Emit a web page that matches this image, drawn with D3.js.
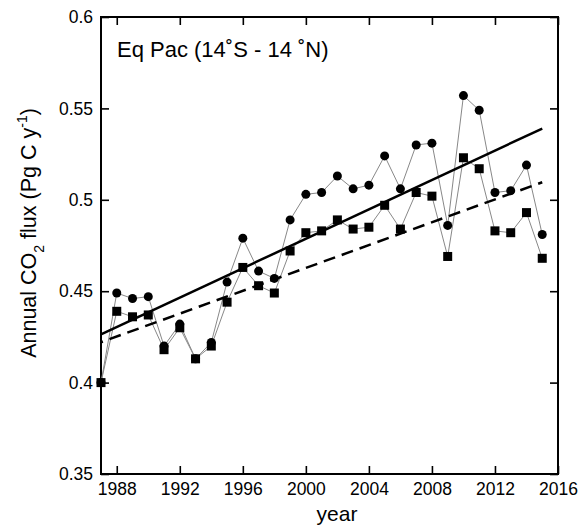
<!DOCTYPE html>
<html>
<head>
<meta charset="utf-8">
<script src="https://cdn.jsdelivr.net/npm/d3@7"></script>
<style>
  body { margin: 0; background: #fff; }
  svg text { font-family: "Liberation Sans", Arial, sans-serif; fill: #000; }
</style>
</head>
<body>
<svg id="chart" width="579" height="527"></svg>
<script>
const years = [1987, 1988, 1989, 1990, 1991, 1992, 1993, 1994, 1995, 1996, 1997, 1998, 1999, 2000, 2001,
               2002, 2003, 2004, 2005, 2006, 2007, 2008, 2009, 2010, 2011, 2012, 2013, 2014, 2015];
const circleSeries = [0.400, 0.449, 0.446, 0.447, 0.420, 0.432, 0.413, 0.422, 0.455, 0.479, 0.461, 0.457, 0.489, 0.503, 0.504,
                      0.513, 0.506, 0.508, 0.524, 0.506, 0.530, 0.531, 0.486, 0.557, 0.549, 0.504, 0.505, 0.519, 0.481];
const squareSeries = [0.400, 0.439, 0.436, 0.437, 0.418, 0.430, 0.413, 0.420, 0.444, 0.463, 0.453, 0.449, 0.472, 0.482, 0.483,
                      0.489, 0.484, 0.485, 0.497, 0.484, 0.504, 0.502, 0.469, 0.523, 0.517, 0.483, 0.482, 0.493, 0.468];
// trend lines: [startYear, endYear] and values at the ends
const trendYears = [1987, 2015];
const solidTrend = [0.4264, 0.539];
const dashedTrend = [0.4221, 0.5096];
const xTicks = [1988, 1992, 1996, 2000, 2004, 2008, 2012, 2016];
const yTicks = [0.35, 0.4, 0.45, 0.5, 0.55, 0.6];

const margin = { top: 17, right: 21, bottom: 53, left: 101 };
const width = 579 - margin.left - margin.right;
const height = 527 - margin.top - margin.bottom;

const svg = d3.select("#chart");
const g = svg.append("g").attr("transform", `translate(${margin.left},${margin.top})`);

const x = d3.scaleLinear().domain([1987, 2016]).range([0, width]);
const y = d3.scaleLinear().domain([0.35, 0.6]).range([height, 0]);

// axes (ticks pointing inward)
const axBottom = g.append("g").attr("transform", `translate(0,${height})`)
    .call(d3.axisBottom(x).tickValues(xTicks).tickFormat(d3.format("d")).tickSizeInner(-8).tickSizeOuter(0).tickPadding(9));
const axTop = g.append("g")
    .call(d3.axisTop(x).tickValues(xTicks).tickFormat("").tickSizeInner(-8).tickSizeOuter(0));
const axLeft = g.append("g")
    .call(d3.axisLeft(y).tickValues(yTicks).tickFormat(d => String(+d.toFixed(2))).tickSizeInner(-8).tickSizeOuter(0).tickPadding(8));
const axRight = g.append("g").attr("transform", `translate(${width},0)`)
    .call(d3.axisRight(y).tickValues(yTicks).tickFormat("").tickSizeInner(-8).tickSizeOuter(0));

[axBottom, axTop, axLeft, axRight].forEach(a => {
    a.select(".domain").remove();
    a.selectAll("line").attr("stroke", "#000").attr("stroke-width", 1.6);
    a.selectAll("text").style("font-size", "17.5px");
});

g.append("rect").attr("x", 0).attr("y", 0).attr("width", width).attr("height", height)
    .attr("fill", "none").attr("stroke", "#000").attr("stroke-width", 2);

// connecting lines
const line = d3.line().x((d, i) => x(years[i])).y(d => y(d));
[circleSeries, squareSeries].forEach(s => {
    g.append("path").datum(s).attr("d", line)
        .attr("fill", "none").attr("stroke", "#888").attr("stroke-width", 1);
});

// trend lines
const trend = d3.line().x((d, i) => x(trendYears[i])).y(d => y(d));
g.append("path").datum(solidTrend).attr("d", trend)
    .attr("fill", "none").attr("stroke", "#000").attr("stroke-width", 2.5);
g.append("path").datum(dashedTrend).attr("d", trend)
    .attr("fill", "none").attr("stroke", "#000").attr("stroke-width", 2.5)
    .attr("stroke-dasharray", "12,7").attr("stroke-dashoffset", -9);

// markers
g.selectAll(".circ").data(circleSeries).join("circle")
    .attr("class", "circ")
    .attr("cx", (d, i) => x(years[i])).attr("cy", d => y(d)).attr("r", 4.5)
    .attr("fill", "#000");
g.selectAll(".sq").data(squareSeries).join("rect")
    .attr("class", "sq")
    .attr("x", (d, i) => x(years[i]) - 4.5).attr("y", d => y(d) - 4.5)
    .attr("width", 9).attr("height", 9)
    .attr("fill", "#000");

// title
g.append("text").attr("x", 16).attr("y", 40).style("font-size", "22px")
    .text("Eq Pac (14˚S - 14 ˚N)");

// x label
svg.append("text").attr("x", 337).attr("y", 521)
    .attr("text-anchor", "middle").style("font-size", "21px").text("year");

// y label
const yl = svg.append("text")
    .attr("transform", "translate(36,233) rotate(-90)")
    .attr("text-anchor", "middle").style("font-size", "21.5px");
yl.append("tspan").text("Annual CO");
yl.append("tspan").attr("dy", 8).style("font-size", "14px").text("2");
yl.append("tspan").attr("dy", -8).text(" flux (Pg C y");
yl.append("tspan").attr("dy", -9).style("font-size", "14px").text("-1");
yl.append("tspan").attr("dy", 9).text(")");
</script>
</body>
</html>
